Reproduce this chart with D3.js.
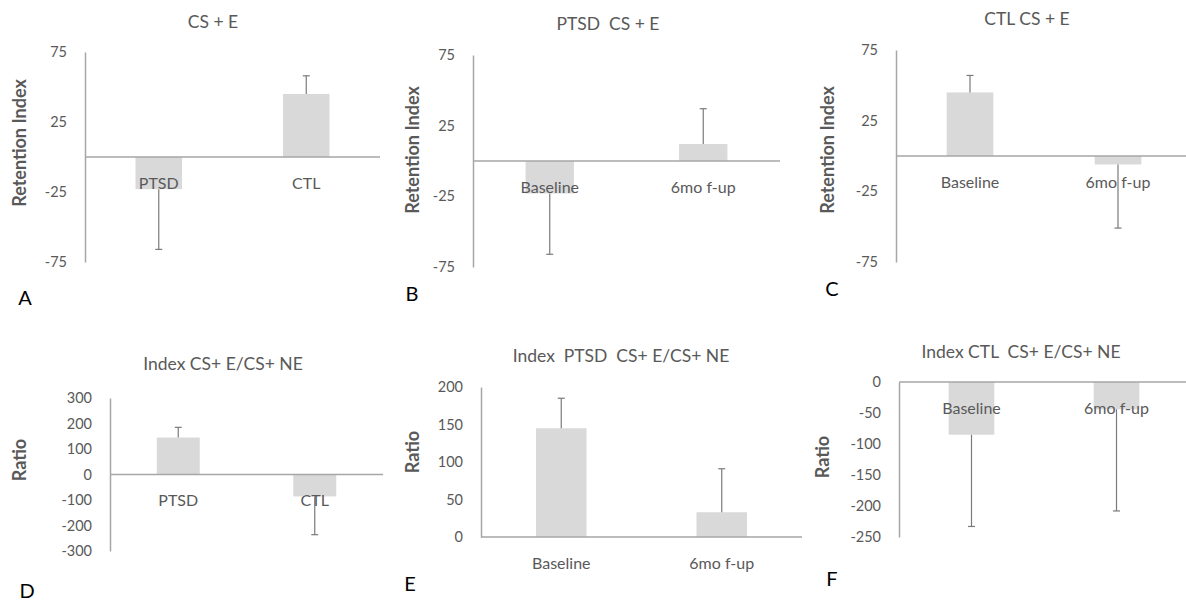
<!DOCTYPE html>
<html>
<head>
<meta charset="utf-8">
<script src="https://cdn.jsdelivr.net/npm/d3@7"></script>
<style>
  html, body { margin: 0; padding: 0; background: #fff; }
  svg { display: block; font-family: Lato, "Open Sans", sans-serif; }
</style>
</head>
<body>
<svg id="chart" width="1186" height="602"></svg>
<script>
// ---- data ----
const panelLetters = ["A", "B", "C", "D", "E", "F"];
const panelTitles = ["CS + E", "PTSD  CS + E", "CTL CS + E",
  "Index CS+ E/CS+ NE", "Index  PTSD  CS+ E/CS+ NE", "Index CTL  CS+ E/CS+ NE"];
const yAxisTitles = ["Retention Index", "Retention Index", "Retention Index", "Ratio", "Ratio", "Ratio"];
const categories = [
  ["PTSD", "CTL"],
  ["Baseline", "6mo f-up"],
  ["Baseline", "6mo f-up"],
  ["PTSD", "CTL"],
  ["Baseline", "6mo f-up"],
  ["Baseline", "6mo f-up"]
];
const means = [
  [-23, 45],
  [-23, 12],
  [45, -6],
  [145, -86],
  [145, 33],
  [-85, -44]
];
const errors = [
  [43, 13],
  [43, 25],
  [12, 45],
  [40, 150],
  [40, 58],
  [148, 164]
];
const yDomains = [[-75, 75], [-75, 75], [-75, 75], [-300, 300], [0, 200], [-250, 0]];
const yTicks = [
  [-75, -25, 25, 75],
  [-75, -25, 25, 75],
  [-75, -25, 25, 75],
  [-300, -200, -100, 0, 100, 200, 300],
  [0, 50, 100, 150, 200],
  [-250, -200, -150, -100, -50, 0]
];

// ---- layout (pixel geometry) ----
const layout = [
  { x0: 85,  x1: 380,  yTop: 52,  yBot: 262, title: [213, 21],  ytitle: [19, 143],  letter: [25, 297] },
  { x0: 473, x1: 780,  yTop: 55,  yBot: 267, title: [608, 23],  ytitle: [412, 150], letter: [412, 293] },
  { x0: 896, x1: 1192, yTop: 50,  yBot: 262, title: [1027, 18], ytitle: [827, 150], letter: [832, 288] },
  { x0: 110, x1: 383,  yTop: 398, yBot: 551, title: [223, 363], ytitle: [19, 460],  letter: [27, 590] },
  { x0: 481, x1: 802,  yTop: 387, yBot: 537, title: [621, 355], ytitle: [412, 452], letter: [410, 583] },
  { x0: 899, x1: 1189, yTop: 382, yBot: 537, title: [1021, 351], ytitle: [822, 457], letter: [832, 578] }
];

const textColor = "#595959";
const axisColor = "#a6a6a6";
const barColor = "#d9d9d9";
const errColor = "#7a7a7a";

const svg = d3.select("#chart");

layout.forEach((L, i) => {
  const g = svg.append("g");
  const x = d3.scaleBand().domain(categories[i]).range([L.x0, L.x1]).padding(0);
  const y = d3.scaleLinear().domain(yDomains[i]).range([L.yBot, L.yTop]);
  const bw = x.bandwidth() * 0.315;
  const data = categories[i].map((c, j) => ({ c, v: means[i][j], e: errors[i][j] }));

  // bars
  g.selectAll("rect.bar").data(data).join("rect")
    .attr("class", "bar")
    .attr("x", d => x(d.c) + x.bandwidth() / 2 - bw / 2)
    .attr("width", bw)
    .attr("y", d => Math.min(y(d.v), y(0)))
    .attr("height", d => Math.abs(y(d.v) - y(0)))
    .attr("fill", barColor);

  // y axis (line only + labels)
  const yAxis = d3.axisLeft(y).tickValues(yTicks[i]).tickSize(0).tickPadding(18)
    .tickFormat(d => String(d));
  const ax = g.append("g").attr("transform", `translate(${L.x0},0)`).call(yAxis);
  ax.select(".domain").attr("stroke", axisColor).attr("stroke-width", 1.5);
  ax.selectAll("text").attr("fill", textColor).style("font-size", "14.5px")
    .style("font-family", "Lato, sans-serif");

  // zero line (category axis)
  g.append("line")
    .attr("x1", L.x0).attr("x2", L.x1)
    .attr("y1", y(0)).attr("y2", y(0))
    .attr("stroke", axisColor).attr("stroke-width", 1.5);

  // error bars (one-sided, away from zero)
  data.forEach(d => {
    const cx = x(d.c) + x.bandwidth() / 2;
    const end = d.v >= 0 ? d.v + d.e : d.v - d.e;
    g.append("line")
      .attr("x1", cx).attr("x2", cx)
      .attr("y1", y(d.v)).attr("y2", y(end))
      .attr("stroke", errColor).attr("stroke-width", 1.2);
    g.append("line")
      .attr("x1", cx - 3.5).attr("x2", cx + 3.5)
      .attr("y1", y(end)).attr("y2", y(end))
      .attr("stroke", errColor).attr("stroke-width", 1.2);
  });

  // category labels, fixed offset below the category axis
  g.selectAll("text.cat").data(data).join("text")
    .attr("class", "cat")
    .attr("x", d => x(d.c) + x.bandwidth() / 2)
    .attr("y", y(0) + 25)
    .attr("text-anchor", "middle")
    .attr("dominant-baseline", "central")
    .attr("fill", textColor)
    .style("font-size", "16px")
    .text(d => d.c);

  // title
  g.append("text")
    .attr("x", L.title[0]).attr("y", L.title[1])
    .attr("text-anchor", "middle").attr("dominant-baseline", "central")
    .attr("fill", textColor).style("font-size", "17.5px")
    .style("white-space", "pre").attr("xml:space", "preserve")
    .text(panelTitles[i]);

  // y axis title
  g.append("text")
    .attr("transform", `translate(${L.ytitle[0]},${L.ytitle[1]}) rotate(-90)`)
    .attr("text-anchor", "middle").attr("dominant-baseline", "central")
    .attr("fill", textColor).style("font-size", "18px").style("font-weight", "bold")
    .text(yAxisTitles[i]);

  // panel letter
  g.append("text")
    .attr("x", L.letter[0]).attr("y", L.letter[1])
    .attr("text-anchor", "middle").attr("dominant-baseline", "central")
    .attr("fill", "#000").style("font-size", "20px")
    .text(panelLetters[i]);
});
</script>
</body>
</html>
